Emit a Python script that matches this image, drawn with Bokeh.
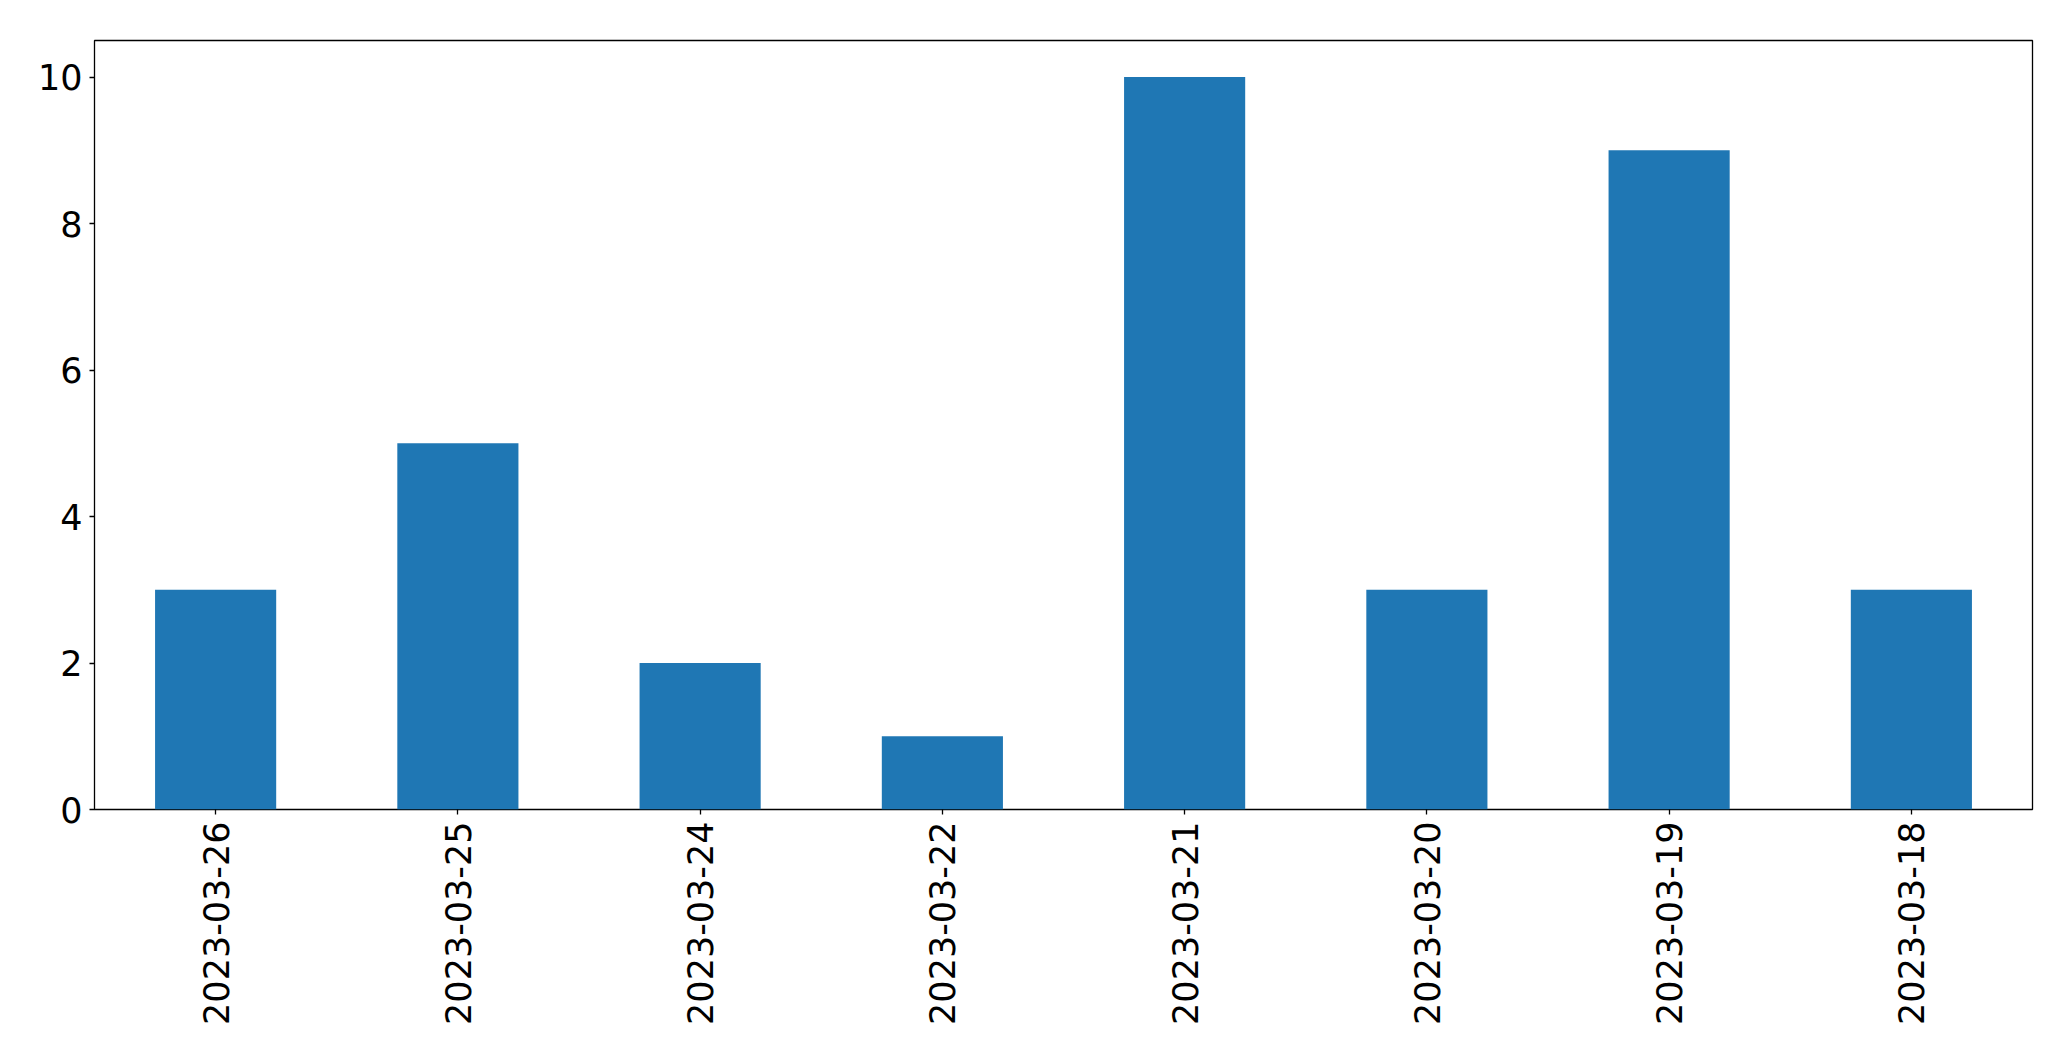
import math
from bokeh.plotting import figure
from bokeh.models import FactorRange, Range1d, FixedTicker
from bokeh.embed import file_html
from bokeh.resources import INLINE

dates = ["2023-03-26", "2023-03-25", "2023-03-24", "2023-03-22",
         "2023-03-21", "2023-03-20", "2023-03-19", "2023-03-18"]
counts = [3, 5, 2, 1, 10, 3, 9, 3]
y_ticks = [0, 2, 4, 6, 8, 10]

p = figure(x_range=FactorRange(factors=dates, range_padding=0),
           y_range=Range1d(0, 10.5),
           frame_width=1938, frame_height=769,
           min_border_left=94, min_border_top=40, min_border_right=31,
           min_border_bottom=236,
           output_backend="svg", toolbar_location=None)

p.vbar(x=dates, top=counts, width=0.5, color="#1f77b4", line_color=None)

p.xgrid.visible = False
p.ygrid.visible = False
p.outline_line_color = "black"
p.outline_line_width = 1.3
p.outline_line_alpha = 1

p.yaxis.ticker = FixedTicker(ticks=y_ticks)
p.yaxis.minor_tick_line_color = None

for ax in (p.xaxis[0], p.yaxis[0]):
    ax.axis_line_color = None
    ax.major_tick_in = 0
    ax.major_tick_out = 5
    ax.major_tick_line_color = "black"
    ax.major_tick_line_width = 1.3
    ax.major_label_text_font = "DejaVu Sans"
    ax.major_label_text_font_size = "35px"
    ax.major_label_text_color = "black"

p.yaxis.major_label_standoff = 7
p.xaxis.major_label_standoff = 7
p.xaxis.major_label_orientation = math.pi / 2

open("out.html", "w").write(file_html(p, INLINE))
